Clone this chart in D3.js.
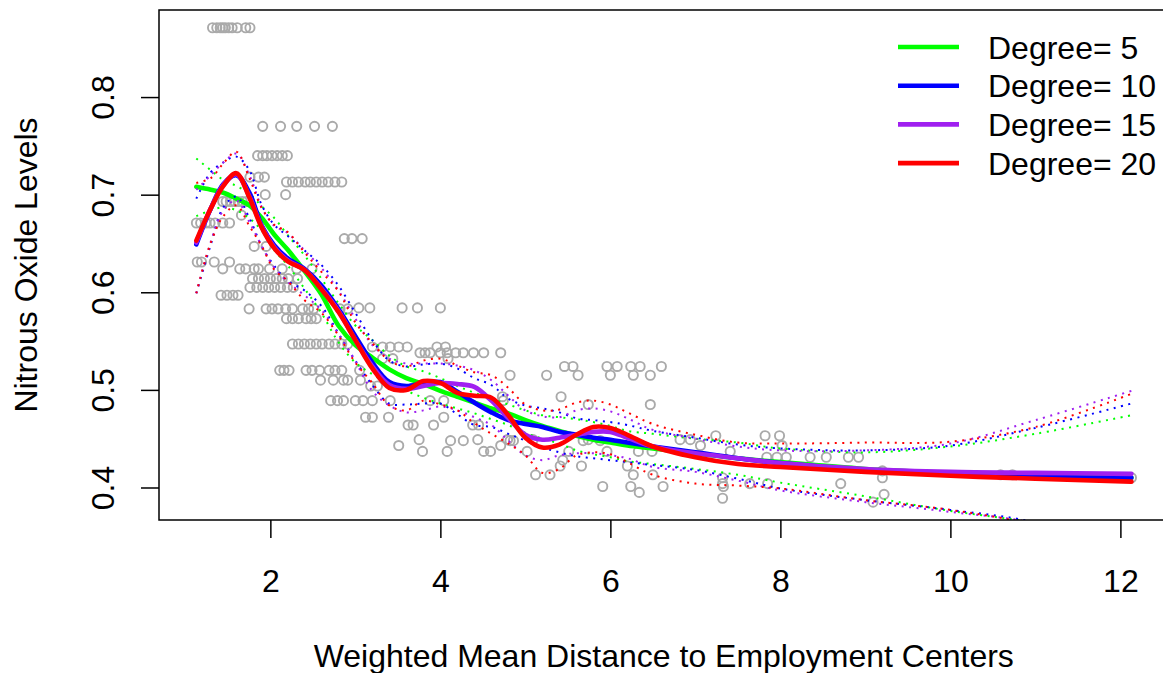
<!DOCTYPE html>
<html><head><meta charset="utf-8">
<script src="https://cdn.jsdelivr.net/npm/d3@7"></script>
<style>body{margin:0;background:#fff}svg{display:block}text{font-family:"Liberation Sans",Arial,Helvetica,sans-serif;fill:#000}</style>
</head><body><svg id="c" width="1163" height="673"></svg>
<script>
// ---- scatter data (nox level -> dis values) ----
const noxLevels = [0.871,0.770,0.740,0.718,0.713,0.700,0.693,0.679,0.671,0.655,0.647,0.631,0.624,0.614,0.605,0.597,0.583,0.584,0.573,0.547,0.544,0.538,0.532,0.520,0.524,0.515,0.510,0.504,0.493,0.489,0.485,0.472,0.464,0.453,0.449,0.448,0.443,0.437,0.431,0.428,0.422,0.417,0.413,0.410,0.404,0.401,0.395,0.393,0.389,0.385];
const disAtLevel = [
 [1.32,1.37,1.41,1.44,1.47,1.51,1.55,1.61,1.71,1.76],
 [1.91,2.12,2.31,2.52,2.73],
 [1.85,1.91,1.96,2.02,2.08,2.14,2.20],
 [1.76,1.86,1.93],
 [2.19,2.26,2.33,2.41,2.47,2.54,2.61,2.68,2.76,2.84],
 [1.94,2.18],
 [1.44,1.48,1.53,1.58,1.62,1.67,1.72],
 [1.66],
 [1.13,1.18,1.24,1.29,1.35,1.44,1.52],
 [2.87,2.96,3.08],
 [1.81,1.95],
 [1.14,1.19,1.34,1.52],
 [1.44,1.64,1.71,1.81,1.86,1.99,2.14,2.31,2.49],
 [1.79,1.86,1.93,2.00,2.07,2.14,2.21,2.32],
 [1.76,1.84,1.91,1.98,2.05,2.12,2.20,2.27],
 [1.42,1.49,1.56,1.62],
 [1.75,1.95,2.02,2.09,2.18,2.26,2.38,2.45,2.51,2.82,2.91],
 [3.04,3.17,3.55,3.73,4.00],
 [2.19,2.26,2.33,2.42,2.48,2.54],
 [2.26,2.33,2.40,2.47,2.54,2.61,2.69,2.76,2.84,2.91],
 [3.20,3.32,3.41,3.51,3.61,3.96,4.06],
 [3.76,3.82,3.88,4.00,4.08,4.18,4.27,4.39,4.51,4.71],
 [3.32,3.44,4.09],
 [2.11,2.16,2.22,2.42,2.49,2.58,2.69,2.76,2.84,3.05],
 [5.46,5.56,5.96,6.08,6.24,6.35,6.60],
 [4.82,5.25,5.62,6.00,6.47,6.27],
 [2.59,2.74,2.86,2.91,3.06],
 [3.18,3.26],
 [4.73,5.42],
 [2.71,2.79,2.86,3.00,3.09,3.20,3.41,3.88,4.04,4.74],
 [5.74,6.47],
 [3.12,3.20,3.39,4.04],
 [3.62,3.68,3.92,4.38,4.45],
 [7.24,7.82,7.99],
 [3.75,4.44,4.79,5.09,5.74,6.94,6.82],
 [4.12,4.27,4.82,4.86,5.68,5.88],
 [3.51,4.71,8.02,7.06],
 [3.79,4.08,4.51,4.59,5.02,5.51,5.96,6.33,6.49,7.41],
 [7.84,7.96,8.07,8.35,8.54,8.80,8.92],
 [5.44],
 [5.41,5.66,6.20],
 [9.20],
 [5.12,5.29,6.27,6.50,10.59,10.73],
 [7.32,9.20,12.13],
 [7.32,7.64,7.85,8.71],
 [5.91,6.24,6.62,7.33],
 [6.34],
 [9.22],
 [7.32],
 [9.09]
];

// ---- fitted curves, sampled at fitDis ----
const fitDis = [1.129,1.3,1.447,1.6,1.753,1.9,2.047,2.2,2.4,2.6,2.8,3.0,3.2,3.4,3.6,3.8,4.0,4.2,4.4,4.6,4.8,5.0,5.2,5.4,5.6,5.8,6.0,6.2,6.5,7.0,7.5,8.0,9.0,10.0,11.0,12.13];

const fit5 = [0.708,0.705,0.702,0.696,0.689,0.676,0.659,0.644,0.622,0.598,0.566,0.546,0.533,0.521,0.512,0.506,0.499,0.493,0.487,0.481,0.476,0.469,0.463,0.458,0.453,0.449,0.446,0.443,0.440,0.435,0.430,0.426,0.419,0.415,0.412,0.410];
const hi5  = [0.737,0.725,0.715,0.709,0.701,0.688,0.676,0.659,0.638,0.614,0.589,0.566,0.551,0.535,0.524,0.519,0.512,0.504,0.497,0.491,0.485,0.479,0.474,0.472,0.470,0.467,0.463,0.458,0.455,0.450,0.446,0.440,0.436,0.442,0.455,0.474];
const lo5  = [0.678,0.684,0.687,0.684,0.676,0.663,0.643,0.628,0.604,0.579,0.549,0.528,0.516,0.506,0.499,0.492,0.486,0.481,0.476,0.470,0.464,0.456,0.450,0.445,0.438,0.434,0.431,0.427,0.424,0.419,0.413,0.405,0.391,0.376,0.364,0.346];

const fit10 = [0.649,0.686,0.711,0.720,0.702,0.668,0.648,0.635,0.624,0.607,0.583,0.555,0.528,0.508,0.504,0.507,0.508,0.498,0.487,0.477,0.469,0.465,0.462,0.457,0.454,0.451,0.449,0.446,0.442,0.436,0.430,0.425,0.418,0.414,0.411,0.410];
const hi10  = [0.696,0.723,0.733,0.739,0.725,0.689,0.669,0.658,0.643,0.628,0.607,0.579,0.551,0.530,0.524,0.526,0.527,0.522,0.512,0.505,0.491,0.484,0.481,0.477,0.471,0.469,0.467,0.464,0.458,0.451,0.444,0.440,0.438,0.443,0.461,0.486];
const lo10  = [0.599,0.649,0.687,0.698,0.676,0.647,0.627,0.612,0.602,0.586,0.558,0.530,0.505,0.486,0.485,0.486,0.486,0.475,0.464,0.462,0.455,0.448,0.441,0.436,0.432,0.430,0.428,0.426,0.423,0.418,0.409,0.399,0.387,0.377,0.364,0.330];

const fit15 = [0.651,0.686,0.710,0.721,0.698,0.667,0.646,0.633,0.623,0.604,0.581,0.551,0.524,0.505,0.501,0.504,0.507,0.506,0.503,0.489,0.471,0.454,0.449,0.451,0.454,0.457,0.457,0.451,0.442,0.435,0.430,0.425,0.419,0.416,0.415,0.414];
const hi15  = [0.705,0.720,0.733,0.742,0.720,0.687,0.668,0.661,0.643,0.625,0.602,0.573,0.546,0.532,0.527,0.527,0.527,0.525,0.520,0.510,0.494,0.479,0.473,0.472,0.479,0.481,0.478,0.471,0.459,0.450,0.442,0.438,0.438,0.445,0.469,0.499];
const lo15  = [0.599,0.652,0.684,0.694,0.672,0.647,0.625,0.611,0.597,0.582,0.557,0.529,0.499,0.484,0.477,0.479,0.483,0.479,0.472,0.464,0.448,0.433,0.428,0.433,0.435,0.435,0.433,0.430,0.421,0.416,0.407,0.397,0.385,0.375,0.363,0.329];

const fit20 = [0.653,0.686,0.709,0.722,0.697,0.666,0.645,0.632,0.623,0.603,0.580,0.551,0.522,0.502,0.500,0.509,0.507,0.497,0.494,0.492,0.474,0.451,0.441,0.444,0.454,0.462,0.461,0.454,0.442,0.431,0.424,0.421,0.416,0.412,0.409,0.406];
const hi20  = [0.712,0.717,0.732,0.744,0.717,0.686,0.669,0.662,0.641,0.621,0.601,0.569,0.548,0.530,0.524,0.530,0.532,0.525,0.518,0.515,0.502,0.485,0.479,0.480,0.487,0.489,0.485,0.477,0.465,0.454,0.446,0.445,0.446,0.447,0.462,0.496];
const lo20  = [0.599,0.651,0.678,0.689,0.668,0.647,0.623,0.612,0.592,0.579,0.556,0.528,0.507,0.484,0.479,0.489,0.485,0.479,0.466,0.455,0.445,0.433,0.415,0.419,0.433,0.436,0.434,0.426,0.413,0.404,0.402,0.399,0.387,0.377,0.361,0.325];

const xTicks = [2,4,6,8,10,12];
const yTicks = [0.4,0.5,0.6,0.7,0.8];
const legendLabels = ["Degree= 5","Degree= 10","Degree= 15","Degree= 20"];
const seriesColors = ["#00FF00","#0000FF","#A020F0","#FF0000"];
const xTitle = "Weighted Mean Distance to Employment Centers";
const yTitle = "Nitrous Oxide Levels";

// ---- drawing ----
const svg = d3.select("#c");
const L = 159, R = 1168.5, T = 10, B = 520;
const FS = 32;
const x = d3.scaleLinear().domain([0.69, 12.566]).range([L, R]);
const y = d3.scaleLinear().domain([0.3667, 0.8892]).range([B, T]);

svg.append("defs").append("clipPath").attr("id","clip")
  .append("rect").attr("x",L).attr("y",T).attr("width",R-L).attr("height",B-T);

// points
const pts = [];
noxLevels.forEach((v,i)=>disAtLevel[i].forEach(d=>pts.push([d,v])));
svg.append("g").selectAll("circle").data(pts).join("circle")
  .attr("cx",d=>x(d[0])).attr("cy",d=>y(d[1])).attr("r",4.6)
  .attr("fill","none").attr("stroke","#aaaaaa").attr("stroke-width",1.9);

// fits
const fits = [[fit5,hi5,lo5],[fit10,hi10,lo10],[fit15,hi15,lo15],[fit20,hi20,lo20]];
const line = d3.line().x(d=>x(d[0])).y(d=>y(d[1])).curve(d3.curveCatmullRom.alpha(0.5));
const gf = svg.append("g").attr("clip-path","url(#clip)");
fits.forEach((f,k)=>{
  const col = seriesColors[k];
  gf.append("path").attr("d",line(fitDis.map((d,i)=>[d,f[0][i]])))
    .attr("fill","none").attr("stroke",col).attr("stroke-width",4.6).attr("stroke-linejoin","round").attr("stroke-linecap","round");
  [f[1],f[2]].forEach(b=>{
    gf.append("path").attr("d",line(fitDis.map((d,i)=>[d,b[i]])))
      .attr("fill","none").attr("stroke",col).attr("stroke-width",2).attr("stroke-dasharray","2 5.5");
  });
});

// box
svg.append("rect").attr("x",L).attr("y",T).attr("width",R-L).attr("height",B-T)
  .attr("fill","none").attr("stroke","#000").attr("stroke-width",1.5);

// x axis
const gx = svg.append("g").attr("transform",`translate(0,${B})`)
  .call(d3.axisBottom(x).tickValues(xTicks).tickSize(18).tickPadding(31).tickFormat(d3.format("d")));
gx.select(".domain").remove();
gx.selectAll("line").attr("stroke","#000").attr("stroke-width",1.5);
gx.selectAll("text").attr("font-size",FS).attr("font-family",null);

// y axis
const gy = svg.append("g").attr("transform",`translate(${L},0)`)
  .call(d3.axisLeft(y).tickValues(yTicks).tickSize(18).tickFormat(d3.format(".1f")));
gy.select(".domain").remove();
gy.selectAll("line").attr("stroke","#000").attr("stroke-width",1.5);
gy.selectAll("text")
  .attr("x",null).attr("dy",null)
  .attr("transform","translate(-45,0) rotate(-90)")
  .attr("text-anchor","middle").attr("font-size",FS).attr("font-family",null);

// titles
svg.append("text").attr("x",(L+R)/2).attr("y",667).attr("text-anchor","middle").attr("font-size",FS).text(xTitle);
svg.append("text").attr("transform",`translate(37,${(T+B)/2}) rotate(-90)`).attr("text-anchor","middle").attr("font-size",FS).text(yTitle);

// legend
const lg = svg.append("g");
legendLabels.forEach((lab,i)=>{
  const yy = 47 + i*38.7;
  lg.append("line").attr("x1",898).attr("x2",959).attr("y1",yy).attr("y2",yy)
    .attr("stroke",seriesColors[i]).attr("stroke-width",4.6);
  lg.append("text").attr("x",988).attr("y",yy+11.5).attr("font-size",FS).text(lab);
});
</script></body></html>
